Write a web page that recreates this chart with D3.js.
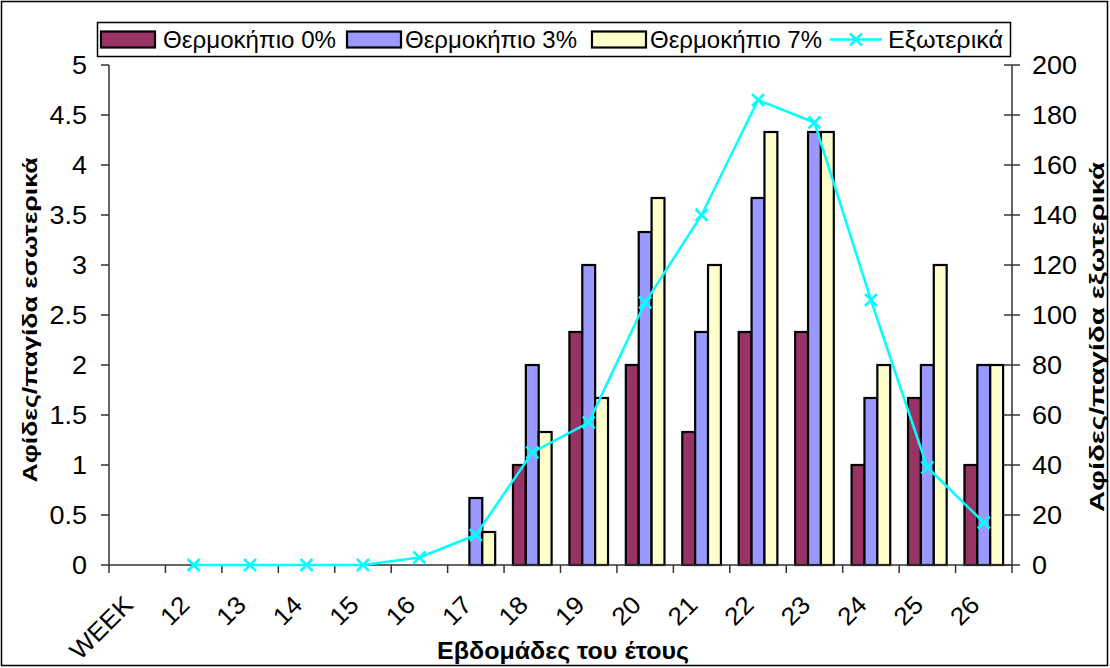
<!DOCTYPE html>
<html><head><meta charset="utf-8">
<script src="https://cdn.jsdelivr.net/npm/d3@7"></script>
<style>
html,body{margin:0;padding:0;background:#fff;}
svg{display:block;font-family:"Liberation Sans",Arial,sans-serif;}
</style></head>
<body>
<svg id="chart" width="1110" height="668"></svg>
<script>
const categories = ["WEEK","12","13","14","15","16","17","18","19","20","21","22","23","24","25","26"];
const seriesNames = ["Θερμοκήπιο 0%","Θερμοκήπιο 3%","Θερμοκήπιο 7%"];
const greenhouse0 = [null,0,0,0,0,0,0,1,2.33,2,1.33,2.33,2.33,1,1.67,1];
const greenhouse3 = [null,0,0,0,0,0,0.67,2,3,3.33,2.33,3.67,4.33,1.67,2,2];
const greenhouse7 = [null,0,0,0,0,0,0.33,1.33,1.67,3.67,3,4.33,4.33,2,3,2];
const outdoor = [null,0,0,0,0,3,12,45,57,105,140,186,177,106,39,17];
const leftTicks = [0,0.5,1,1.5,2,2.5,3,3.5,4,4.5,5];
const rightTicks = [0,20,40,60,80,100,120,140,160,180,200];
const lineName = "Εξωτερικά";
const colors = ["#993366","#9999FF","#FFFFCC"];
const lineColor = "#00FFFF";

const svg = d3.select("#chart");
const L = 109, R = 1012, T = 65, B = 565;

svg.append("rect").attr("x",1.5).attr("y",1.5).attr("width",1106).attr("height",664)
  .attr("fill","none").attr("stroke","#000").attr("stroke-width",1.5);

const x = d3.scaleBand().domain(categories).range([L,R]).padding(0);
const xs = d3.scaleBand().domain(seriesNames).range([0,x.bandwidth()]).paddingInner(0).paddingOuter(0.69);
const yL = d3.scaleLinear().domain([0,5]).range([B,T]);
const yR = d3.scaleLinear().domain([0,200]).range([B,T]);

const seriesData = [greenhouse0, greenhouse3, greenhouse7];
seriesData.forEach((arr,si)=>{
  svg.append("g").selectAll("rect")
    .data(categories.map((c,i)=>({c,v:arr[i]})).filter(d=>d.v))
    .join("rect")
    .attr("x",d=>x(d.c)+xs(seriesNames[si]))
    .attr("y",d=>yL(d.v))
    .attr("width",xs.bandwidth())
    .attr("height",d=>B-yL(d.v))
    .attr("fill",colors[si]).attr("stroke","#000").attr("stroke-width",2.2);
});

const axisColor = "#333";
const fs = 25;
function stretchText(g, tx, ty, anchor, txt, size, sx){
  return g.append("text").attr("transform",`translate(${tx},${ty}) scale(${sx},1)`)
    .attr("text-anchor",anchor).attr("dy","0.36em").attr("font-size",size).text(txt);
}
// left axis
const gl = svg.append("g");
gl.append("line").attr("x1",L).attr("x2",L).attr("y1",T).attr("y2",B).attr("stroke",axisColor).attr("stroke-width",1.5);
leftTicks.forEach(t=>{
  gl.append("line").attr("x1",L-8).attr("x2",L).attr("y1",yL(t)).attr("y2",yL(t)).attr("stroke",axisColor).attr("stroke-width",1.5);
  stretchText(gl, L-22, yL(t), "end", t, fs, 1.08);
});
// right axis
const gr = svg.append("g");
gr.append("line").attr("x1",R).attr("x2",R).attr("y1",T).attr("y2",B).attr("stroke",axisColor).attr("stroke-width",1.5);
rightTicks.forEach(t=>{
  gr.append("line").attr("x1",R-8).attr("x2",R+8).attr("y1",yR(t)).attr("y2",yR(t)).attr("stroke",axisColor).attr("stroke-width",1.5);
  stretchText(gr, R+20, yR(t), "start", t, fs, 1.08);
});
// bottom axis
const gb = svg.append("g");
gb.append("line").attr("x1",L).attr("x2",R).attr("y1",B).attr("y2",B).attr("stroke",axisColor).attr("stroke-width",1.5);
categories.forEach((c,i)=>{
  gb.append("line").attr("x1",x(c)).attr("x2",x(c)).attr("y1",B).attr("y2",B+8).attr("stroke",axisColor).attr("stroke-width",1.5);
  const cx = x(c)+x.bandwidth()/2;
  gb.append("text").attr("transform",`translate(${cx-9},${B+35}) rotate(-45) scale(1.05,1)`)
    .attr("text-anchor","end").attr("dy","0.36em").attr("font-size",fs).text(c);
});
gb.append("line").attr("x1",R).attr("x2",R).attr("y1",B).attr("y2",B+8).attr("stroke",axisColor).attr("stroke-width",1.5);

// line
const lineData = categories.map((c,i)=>({c,v:outdoor[i]})).filter(d=>d.v!==null);
const lineGen = d3.line().x(d=>x(d.c)+x.bandwidth()/2).y(d=>yR(d.v));
svg.append("path").datum(lineData).attr("d",lineGen).attr("fill","none").attr("stroke",lineColor).attr("stroke-width",2.5);
const ms = 6;
lineData.forEach(d=>{
  const px = x(d.c)+x.bandwidth()/2, py = yR(d.v);
  svg.append("path").attr("d",`M${px-ms},${py-ms}L${px+ms},${py+ms}M${px-ms},${py+ms}L${px+ms},${py-ms}`)
    .attr("stroke",lineColor).attr("stroke-width",2.5).attr("fill","none");
});

// titles
svg.append("text").attr("x",563).attr("y",659).attr("text-anchor","middle").attr("font-size",23).attr("font-weight","bold")
  .attr("textLength",252).attr("lengthAdjust","spacingAndGlyphs").text("Εβδομάδες του έτους");
svg.append("text").attr("transform","translate(37,320) rotate(-90)").attr("text-anchor","middle").attr("font-size",21).attr("font-weight","bold")
  .attr("textLength",325).attr("lengthAdjust","spacingAndGlyphs").text("Αφίδες/παγίδα εσωτερικά");
svg.append("text").attr("transform","translate(1104,337) rotate(-90)").attr("text-anchor","middle").attr("font-size",21).attr("font-weight","bold")
  .attr("textLength",350).attr("lengthAdjust","spacingAndGlyphs").text("Αφίδες/παγίδα εξωτερικά");

// legend
const lg = svg.append("g");
lg.append("rect").attr("x",97.5).attr("y",22.5).attr("width",913).attr("height",34).attr("fill","#fff").attr("stroke","#000").attr("stroke-width",1.5);
const legItems = [
  {name:seriesNames[0], type:"bar", color:colors[0], x:101, tx:163, w:173},
  {name:seriesNames[1], type:"bar", color:colors[1], x:347, tx:405, w:172},
  {name:seriesNames[2], type:"bar", color:colors[2], x:592, tx:650, w:172},
  {name:lineName, type:"line", color:lineColor, x:830, tx:888, w:115}
];
legItems.forEach(it=>{
  if(it.type==="bar"){
    lg.append("rect").attr("x",it.x).attr("y",31.5).attr("width",54).attr("height",16).attr("fill",it.color).attr("stroke","#000").attr("stroke-width",2.2);
  } else {
    lg.append("line").attr("x1",it.x).attr("x2",it.x+52).attr("y1",39.5).attr("y2",39.5).attr("stroke",it.color).attr("stroke-width",2.5);
    const px = it.x+26, py = 39.5;
    lg.append("path").attr("d",`M${px-ms},${py-ms}L${px+ms},${py+ms}M${px-ms},${py+ms}L${px+ms},${py-ms}`).attr("stroke",it.color).attr("stroke-width",2.5);
  }
  lg.append("text").attr("x",it.tx).attr("y",40).attr("dy","0.36em").attr("font-size",23)
    .attr("textLength",it.w).attr("lengthAdjust","spacingAndGlyphs").text(it.name);
});
</script>
</body></html>
